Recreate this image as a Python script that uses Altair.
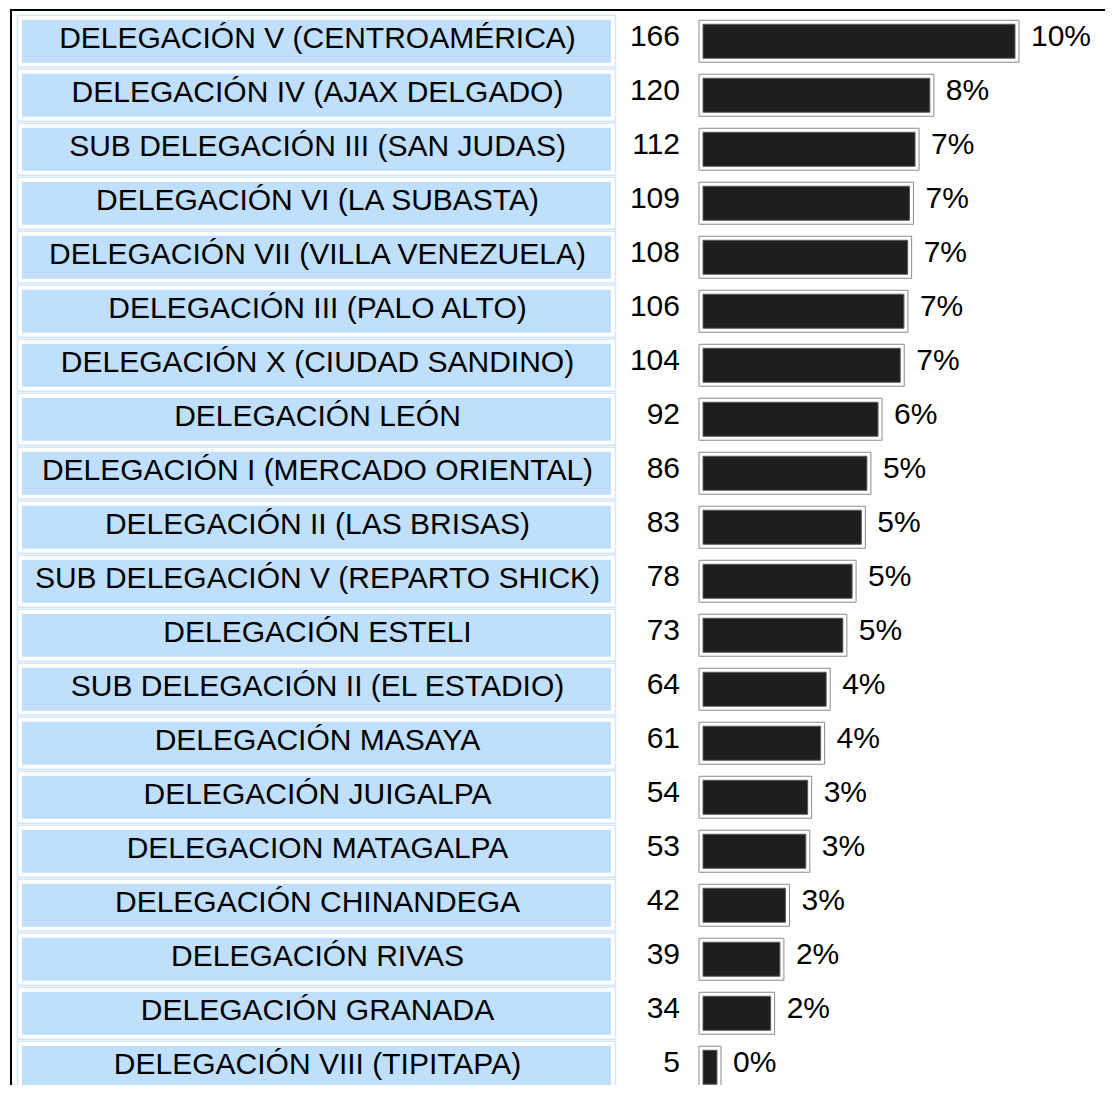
import altair as alt
import pandas as pd

names = [
    "DELEGACIÓN V (CENTROAMÉRICA)",
    "DELEGACIÓN IV (AJAX DELGADO)",
    "SUB DELEGACIÓN III (SAN JUDAS)",
    "DELEGACIÓN VI (LA SUBASTA)",
    "DELEGACIÓN VII (VILLA VENEZUELA)",
    "DELEGACIÓN III (PALO ALTO)",
    "DELEGACIÓN X (CIUDAD SANDINO)",
    "DELEGACIÓN LEÓN",
    "DELEGACIÓN I (MERCADO ORIENTAL)",
    "DELEGACIÓN II (LAS BRISAS)",
    "SUB DELEGACIÓN V (REPARTO SHICK)",
    "DELEGACIÓN ESTELI",
    "SUB DELEGACIÓN II (EL ESTADIO)",
    "DELEGACIÓN MASAYA",
    "DELEGACIÓN JUIGALPA",
    "DELEGACION MATAGALPA",
    "DELEGACIÓN CHINANDEGA",
    "DELEGACIÓN RIVAS",
    "DELEGACIÓN GRANADA",
    "DELEGACIÓN VIII (TIPITAPA)",
]
counts = [166, 120, 112, 109, 108, 106, 104, 92, 86, 83, 78, 73, 64, 61, 54, 53, 42, 39, 34, 5]
pcts = ["10%", "8%", "7%", "7%", "7%", "7%", "7%", "6%", "5%", "5%", "5%", "5%", "4%", "4%", "3%", "3%", "3%", "2%", "2%", "0%"]

df = pd.DataFrame({"name": names, "count": counts, "pct": pcts})

W, H = 1097, 1077
FONT = "Liberation Sans"

y_enc = alt.Y("name:N", sort=names, axis=None,
              scale=alt.Scale(range=[6.25, 1086.25], paddingInner=0, paddingOuter=0))
x_scale = alt.Scale(domain=[0, 170], range=[703.7, 1018.4], nice=False, zero=False)

base = alt.Chart(df)

label_frame = base.mark_bar(size=52, fill="#ffffff", stroke="#d3e8fd", strokeWidth=1.5).encode(
    y=y_enc, x=alt.value(9.5), x2=alt.value(607.5))
label_fill = base.mark_bar(size=43, fill="#bfdffd").encode(
    y=y_enc, x=alt.value(14), x2=alt.value(603))
label_text = base.mark_text(font=FONT, fontSize=30, align="center", baseline="alphabetic",
                            dy=6.5, color="#000000").encode(
    y=y_enc, x=alt.value(309.5), text="name:N")

count_text = base.mark_text(font=FONT, fontSize=30, align="right", baseline="alphabetic",
                            dy=5, color="#000000").encode(
    y=y_enc, x=alt.value(672), text="count:Q")

bar_frame = base.mark_bar(size=42, fill="#ffffff", stroke="#8a8a8a", strokeWidth=1).encode(
    y=y_enc, x=alt.X("count:Q", scale=x_scale, axis=None, stack=None), x2=alt.value(691))
bar_inner = base.mark_bar(size=34, fill="#1e1e1e", stroke="#5a5a5a", strokeWidth=1, xOffset=-4).encode(
    y=y_enc, x=alt.X("count:Q", scale=x_scale, axis=None, stack=None), x2=alt.value(695))

pct_text = base.mark_text(font=FONT, fontSize=30, align="left", baseline="alphabetic",
                          dx=12, dy=5, color="#000000").encode(
    y=y_enc, x=alt.X("count:Q", scale=x_scale, axis=None, stack=None), text="pct:N")

one = pd.DataFrame({"a": [0]})
top_border = alt.Chart(one).mark_rule(color="#000000", strokeWidth=2).encode(
    x=alt.value(2), x2=alt.value(W), y=alt.value(2))
left_border = alt.Chart(one).mark_rule(color="#000000", strokeWidth=2).encode(
    x=alt.value(3), y=alt.value(1), y2=alt.value(H))

chart = alt.layer(
    label_frame, label_fill, label_text, count_text, bar_frame, bar_inner, pct_text,
    top_border, left_border,
).properties(
    width=W, height=H, padding=0, autosize=alt.AutoSizeParams(type="none"),
    background="#ffffff",
).configure_view(strokeWidth=0)

chart.save("out.html", embed_options={"renderer": "svg", "actions": False})
